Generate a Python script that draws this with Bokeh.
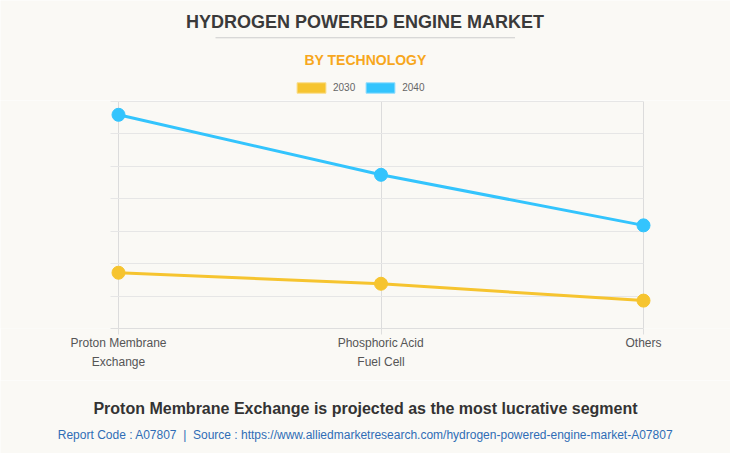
import numpy as np
from bokeh.plotting import figure
from bokeh.layouts import column
from bokeh.models import (Label, Legend, LegendItem, FixedTicker, BoxAnnotation,
                          Range1d, Grid)
from bokeh.embed import file_html
from bokeh.resources import INLINE

# ---- data ----
categories = ["Proton Membrane\nExchange", "Phosphoric Acid\nFuel Cell", "Others"]
series_names = ["2030", "2040"]
values_2030 = [1.72, 1.38, 0.86]
values_2040 = [6.59, 4.74, 3.18]
y_ticks = [0, 1, 2, 3, 4, 5, 6, 7]

title_text = "HYDROGEN POWERED ENGINE MARKET"
subtitle_text = "BY TECHNOLOGY"
bottom_text = "Proton Membrane Exchange is projected as the most lucrative segment"
footer_text = ("Report Code : A07807 \u00a0|\u00a0 Source : "
               "https://www.alliedmarketresearch.com/hydrogen-powered-engine-market-A07807")

# ---- style ----
BG = "#faf9f5"
YEL = "#f6c42f"
BLU = "#33c4fd"
FONT = "Liberation Sans"
W = 730


def blank(height):
    f = figure(width=W, height=height, output_backend="svg", toolbar_location=None,
               x_axis_type=None, y_axis_type=None, x_range=Range1d(0, 1),
               y_range=Range1d(0, 1), min_border=0,
               background_fill_color=BG, border_fill_color=BG)
    f.outline_line_color = None
    return f


# ---------------- header ----------------
head = blank(100)
head.add_layout(Label(x=364.5, y=78.5, x_units="screen", y_units="screen", text=title_text,
                      text_align="center", text_baseline="alphabetic", text_font=FONT,
                      text_font_style="bold", text_font_size="18px", text_color="#3a3a3a"))
head.add_layout(BoxAnnotation(left=215, right=514.5, bottom=62.2, top=63.2,
                              left_units="screen", right_units="screen",
                              bottom_units="screen", top_units="screen",
                              fill_color="#cccccc", fill_alpha=1, line_color=None))
head.add_layout(Label(x=365, y=41, x_units="screen", y_units="screen", text=subtitle_text,
                      text_align="center", text_baseline="alphabetic", text_font=FONT,
                      text_font_style="bold", text_font_size="14px", text_color="#f7a71d"))
nan = np.array([np.nan])
sw1 = head.rect(x=nan, y=nan, width=1, height=1, fill_color=YEL, line_color="#f9dc86")
sw2 = head.rect(x=nan, y=nan, width=1, height=1, fill_color=BLU, line_color="#8fdcfd")
legend = Legend(items=[LegendItem(label=series_names[0], renderers=[sw1]),
                       LegendItem(label=series_names[1], renderers=[sw2])],
                orientation="horizontal", location=(293, 6),
                glyph_width=36, glyph_height=13, label_standoff=4, spacing=7,
                padding=0, margin=0, border_line_color=None,
                background_fill_alpha=0, label_text_font=FONT,
                label_text_font_size="10px", label_text_color="#666666",
                label_height=13, label_text_baseline="middle")
head.add_layout(legend, "center")

# ---------------- main chart ----------------
x = list(range(len(categories)))
last = len(categories) - 1
px_per_x = 262.5
x_left = -8 / px_per_x            # where the horizontal grid starts
x0 = -118 / px_per_x
x1 = last + 87 / px_per_x
px_per_y = 32.43
y1 = 228 / px_per_y

p = figure(width=W, height=280, output_backend="svg", toolbar_location=None,
           x_range=Range1d(x0, x1), y_range=Range1d(0, y1), y_axis_type=None,
           min_border_left=0, min_border_right=0, min_border_top=0,
           min_border_bottom=52, background_fill_color=BG, border_fill_color=BG)
p.outline_line_color = None

xa = p.xaxis[0]
xa.ticker = FixedTicker(ticks=x)
xa.bounds = (x_left, last)
xa.major_label_overrides = {i: c for i, c in enumerate(categories)}
xa.axis_line_color = "#dedede"
xa.major_tick_line_color = "#dedede"
xa.major_tick_out = 6
xa.major_tick_in = 0
xa.minor_tick_line_color = None
xa.major_label_text_font = FONT
xa.major_label_text_font_size = "12px"
xa.major_label_text_color = "#555555"
xa.major_label_standoff = 1
xa.major_label_text_line_height = 1.395

p.xgrid.ticker = FixedTicker(ticks=x)
p.xgrid.grid_line_color = "#dcdcdc"
p.xgrid.cross_bounds = (0, y_ticks[-1])

yg = Grid(dimension=1, ticker=FixedTicker(ticks=y_ticks), grid_line_color="#e6e6e6",
          cross_bounds=(x_left, last))
p.add_layout(yg)

for vals, col in ((values_2030, YEL), (values_2040, BLU)):
    p.line(x, vals, line_color=col, line_width=3)
    p.scatter(x, vals, size=13, fill_color=col, line_color=col)

# ---------------- footer ----------------
foot = blank(73)
foot.add_layout(Label(x=365, y=45.2, x_units="screen", y_units="screen", text=bottom_text,
                      text_align="center", text_baseline="alphabetic", text_font=FONT,
                      text_font_style="bold", text_font_size="16px", text_color="#333333"))
foot.add_layout(Label(x=365, y=18.3, x_units="screen", y_units="screen", text=footer_text,
                      text_align="center", text_baseline="alphabetic", text_font=FONT,
                      text_font_size="12px", text_color="#2f6db5"))

page = column(head, p, foot, spacing=0)
open("out.html", "w").write(file_html(page, INLINE))
